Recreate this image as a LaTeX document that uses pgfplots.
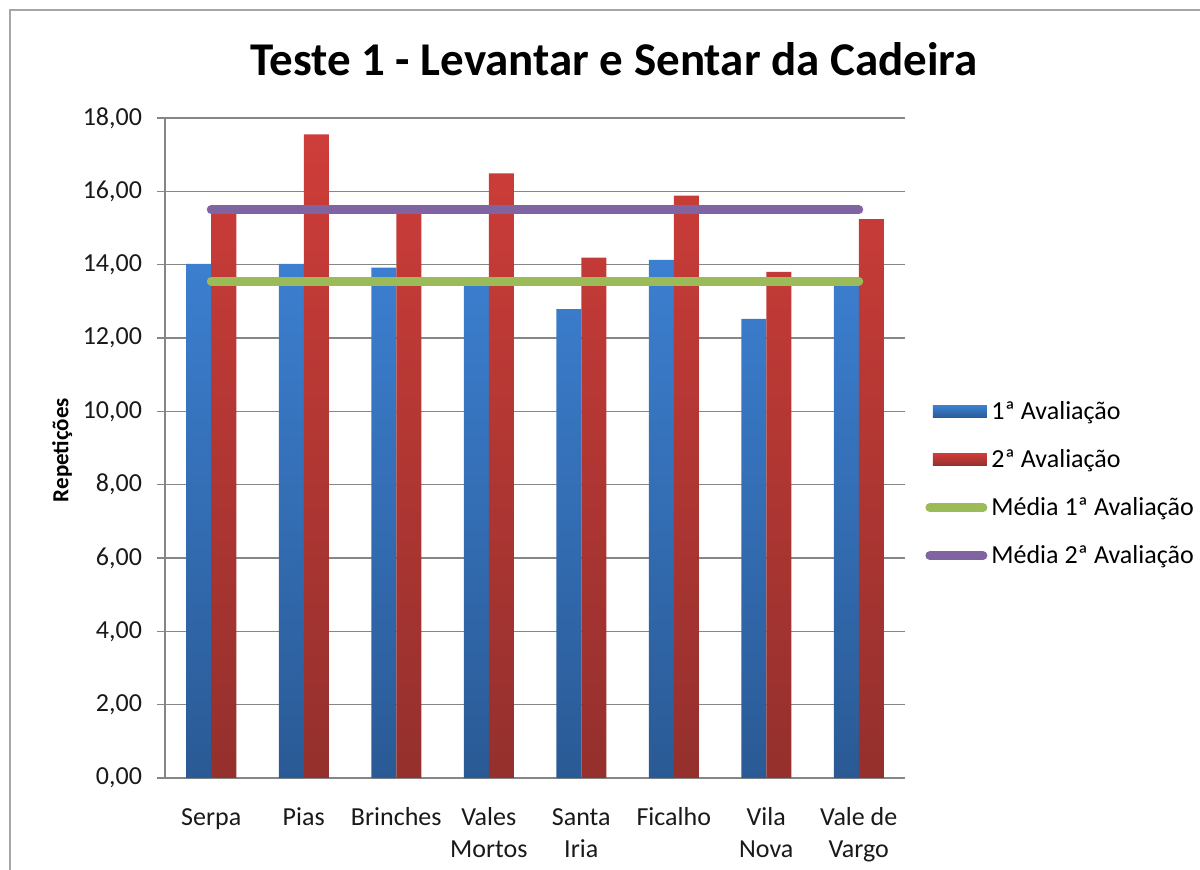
\documentclass[border=0pt]{standalone}
\usepackage{pgfplots}
\pgfplotsset{compat=1.18}
\usepackage{fontspec}
\setmainfont{Carlito}
\definecolor{bluetop}{HTML}{3C7FD0}
\definecolor{bluebot}{HTML}{2A5A95}
\definecolor{redtop}{HTML}{CE3D39}
\definecolor{redbot}{HTML}{94302D}
\definecolor{mgreen}{HTML}{9BBB59}
\definecolor{mpurple}{HTML}{8064A2}
\definecolor{gridgray}{HTML}{868686}
\begin{document}
\begin{tikzpicture}
\path[use as bounding box] (0,0) rectangle (600bp,435bp);
\draw[color=black!35, line width=1bp] (5bp,0) -- (5bp,430bp) -- (600bp,430bp);
\node[font=\fontsize{23.5bp}{28bp}\selectfont\bfseries, anchor=base] at (307bp,397bp) {Teste 1 - Levantar e Sentar da Cadeira};
\begin{axis}[
  at={(82.5bp,46bp)}, anchor=south west,
  scale only axis, width=370bp, height=330bp,
  xmin=-0.5, xmax=7.5, ymin=0, ymax=18,
  axis x line*=bottom, axis y line*=left,
  axis line style={gridgray, line width=0.8bp},
  xtick={0,...,7},
  xticklabels={\strut Serpa,\strut Pias,\strut Brinches,{\strut Vales\\Mortos},{\strut Santa\\Iria},\strut Ficalho,{\strut Vila\\Nova},{\strut Vale de\\Vargo}},
  xticklabel style={align=center, font=\fontsize{13bp}{16bp}\selectfont, yshift=-5bp, text=black!90},
  x tick style={draw=none},
  ytick={0,2,...,18},
  ymajorgrids, grid style={gridgray, line width=0.8bp},
  y tick style={gridgray, line width=0.8bp},
  tick align=outside, major tick length=4bp,
  yticklabel style={font=\fontsize{13bp}{16bp}\selectfont, xshift=-4bp, text=black!90},
  /pgf/number format/.cd, fixed, fixed zerofill, precision=2, use comma, assume math mode=true,
  /pgfplots/.cd,
  ylabel={Repetições},
  ylabel style={at={(axis description cs:-0.139,0.497)}, anchor=center, font=\fontsize{11.5bp}{13bp}\selectfont\bfseries},
  legend style={at={(1,0.446)}, anchor=west, xshift=10bp, draw=none, fill=none,
    font=\fontsize{13bp}{16bp}\selectfont, row sep=9.5bp, inner sep=0pt,
    /tikz/every even column/.append style={column sep=0pt}},
  legend cell align=left,
  clip=false,
]
\addplot[draw=none, top color=bluetop, bottom color=bluebot,
  ybar, bar width=12.5bp, bar shift=-6.25bp,
  legend image code/.code={\fill[top color=bluetop, bottom color=bluebot] (4bp,-3bp) rectangle (31bp,3bp);}]
  coordinates {(0,14.02) (1,14.02) (2,13.92) (3,13.50) (4,12.79) (5,14.13) (6,12.52) (7,13.50)};
\addlegendentry{1ª Avaliação}
\addplot[draw=none, top color=redtop, bottom color=redbot,
  ybar, bar width=12.5bp, bar shift=6.25bp,
  legend image code/.code={\fill[top color=redtop, bottom color=redbot] (4bp,-3bp) rectangle (31bp,3bp);}]
  coordinates {(0,15.42) (1,17.55) (2,15.42) (3,16.49) (4,14.19) (5,15.88) (6,13.80) (7,15.24)};
\addlegendentry{2ª Avaliação}
\addplot[mgreen, line width=4.5bp, line cap=round, mark=none,
  legend image code/.code={\draw[mgreen, line width=4.5bp, line cap=round] (2.5bp,0) -- (29bp,0);}]
  coordinates {(0,13.55) (1,13.55) (2,13.55) (3,13.55) (4,13.55) (5,13.55) (6,13.55) (7,13.55)};
\addlegendentry{Média 1ª Avaliação}
\addplot[mpurple, line width=4.5bp, line cap=round, mark=none,
  legend image code/.code={\draw[mpurple, line width=4.5bp, line cap=round] (2.5bp,0) -- (29bp,0);}]
  coordinates {(0,15.50) (1,15.50) (2,15.50) (3,15.50) (4,15.50) (5,15.50) (6,15.50) (7,15.50)};
\addlegendentry{Média 2ª Avaliação}
\end{axis}
\end{tikzpicture}
\end{document}
